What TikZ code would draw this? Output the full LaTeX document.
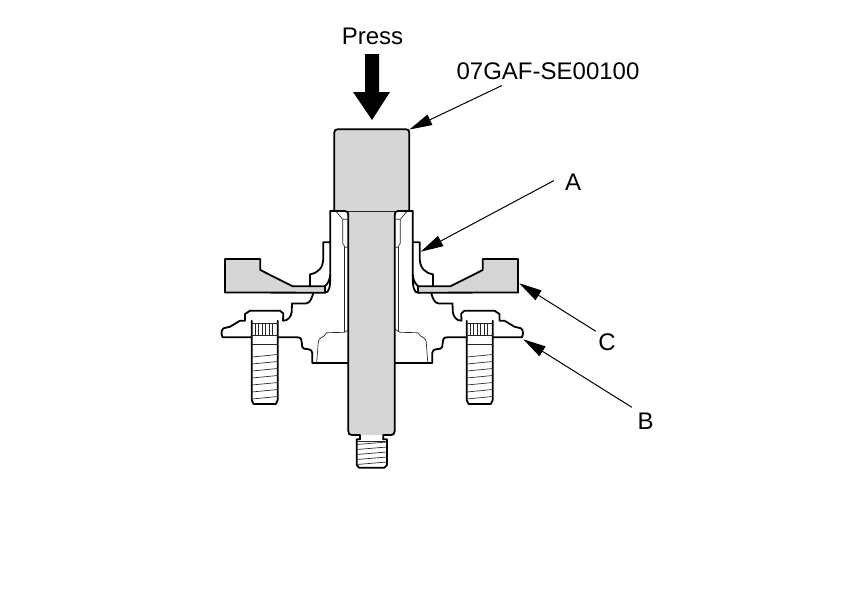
\documentclass[tikz,border=0pt]{standalone}
\usepackage{fontspec}
\setmainfont{Liberation Sans}
\usetikzlibrary{arrows.meta}
\definecolor{steel}{HTML}{D6D6D6}
\tikzset{
  heavy/.style={draw=black,line width=1.35pt,line join=round,line cap=round},
  fine/.style={draw=black!85,line width=0.5pt},
  label/.style={font=\fontsize{18pt}{20pt}\selectfont,inner sep=0pt,text=black},
  leader/.style={draw=black,line width=0.75pt,-{Triangle[length=17pt,width=8.5pt]},shorten <=1pt}
}
\newcommand{\flangehalf}{%
  \fill[steel] (225,259)--(260.3,259)--(260.3,270)--(292.7,286.3)--(325,286.3)--(325,292.7)--(225,292.5)--cycle;
  \draw[heavy] (225,292.5)--(225,259)--(260.3,259)--(260.3,270)--(292.7,286.3)--(325,286.3);
  \draw[heavy] (225,292.5)--(325,292.7);
  \draw[heavy] (310,286.3)--(310,274.3) .. controls (318,273) and (323.3,268) .. (323.3,258)--(323.3,242.3)--(330.2,242.3);
  \draw[heavy] (330.2,211)--(330.2,278) .. controls (330.2,287) and (329,292.7) .. (325,292.7)--(325,286.3);
  \draw[heavy] (325,286.3) .. controls (328.5,283) and (329.8,279) .. (330.2,275);
  \draw[heavy] (330.2,211)--(345,211) .. controls (347.5,211) and (348.3,212.5) .. (348.3,215);
  \draw[fine] (336.5,212)--(342.7,219.3)--(348.3,219.3);
  \draw[fine] (342.7,219.3)--(342.7,243)--(345,247.3)--(348.3,247.3);
  \draw[fine] (344.3,247.3)--(344.3,332);
}
\newcommand{\lowerhalf}{%
  \draw[heavy] (313.3,292.9) .. controls (312,298) and (310,303.3) .. (306,303.4)--(292,303.4)--(291.7,312) .. controls (291,317) and (288,320.7) .. (283,320.7)--(283.3,313.5)--(280,310.7)--(250,310.7)--(245,314)--(245,320.7)--(240,320.7)--(230,326.7)--(223.5,328.3) .. controls (221,330) and (221,335) .. (222.7,337.3)--(251.7,337.3);
  \draw[heavy] (277.7,337.3)--(297.3,337.3) .. controls (301,337.5) and (301.7,339) .. (301.7,342)--(302.3,347) .. controls (303,349) and (305,349) .. (307,349) .. controls (311,349.5) and (312.3,351) .. (312.3,353)--(312.3,363)--(352,363);
  \draw[fine] (316.7,362.5)--(318.3,342) .. controls (319,338) and (322,337) .. (324,336)--(326.7,332.7)--(344.3,332.3)--(352,328);
}
\newcommand{\boltbody}{%
  \draw[heavy] (251.7,320.7)--(251.7,400)--(253.5,404)--(275.9,404)--(277.7,400)--(277.7,320.7);
  \draw[fine] (251.7,323.3)--(277.7,323.3) (251.7,335)--(277.7,335) (251.7,344)--(277.7,344);
  \foreach \kx in {255,258.5,262,265.5,269,272.5}
    \draw[fine] (\kx,323.3)--(\kx,335);
  \foreach \ky in {357,364,371,378,385,392,399}
    \draw[fine] (251.7,\ky)--(277.7,\ky-2.5);
}
\begin{document}
\begin{tikzpicture}[x=0.75pt,y=-0.75pt]
  \useasboundingbox[fill=white] (0,0) rectangle (860,608);
  \begin{scope}\lowerhalf\end{scope}
  \begin{scope}[xshift=744.5*0.75pt,xscale=-1]\lowerhalf\end{scope}
  % tool
  \fill[steel] (348.3,211)--(394.7,211)--(394.7,431) .. controls (394.7,434) and (393,435) .. (391,435)--(352,435) .. controls (349.5,435) and (348.3,434) .. (348.3,431)--cycle;
  \draw[heavy,fill=steel] (334.3,211)--(334.3,132.5) .. controls (334.3,130.3) and (335.5,129.3) .. (337.5,129.3)--(406,129.3) .. controls (408,129.3) and (409.3,130.3) .. (409.3,132.5)--(409.3,211);
  \draw[fine] (345,211)--(398,211);
  \draw[heavy] (348.3,215)--(348.3,431) .. controls (348.3,434) and (349.5,435) .. (352,435)--(360,435)--(360,439.3);
  \draw[heavy] (394.7,215)--(394.7,431) .. controls (394.7,434) and (393,435) .. (391,435)--(383.3,435)--(383.3,439.3);
  % threaded end
  \draw[heavy] (360,439.3)--(356.7,439.3)--(356.7,465)--(359,467.7)--(384.5,467.7)--(386.9,465)--(386.9,439.3)--(383.3,439.3);
  \foreach \ty in {443,448,453,458,463}
    \draw[fine] (356.7,\ty+1.5)--(386.9,\ty-1);
  \draw[fine] (356.7,441)--(386.9,441);
  % hub halves
  \begin{scope}\flangehalf\end{scope}
  \begin{scope}[xshift=743*0.75pt,xscale=-1]\flangehalf\end{scope}
  \boltbody
  \begin{scope}[xshift=215*0.75pt]\boltbody\end{scope}
  % press arrow
  \fill[black] (365,54)--(379,54)--(379,92)--(390,92)--(372,120)--(353,92)--(365,92)--cycle;
  % labels
  \node[label] (press) at (372.5,36.5) {Press};
  \node[label] (tool) at (548,71) {07GAF-SE00100};
  \node[label] (a) at (573,182) {A};
  \node[label] (c) at (607,342) {C};
  \node[label] (b) at (645.5,421) {B};
  % leaders
  \coordinate (toolTip) at (409.5,129.5);
  \coordinate (aTip) at (420.7,251.7);
  \coordinate (cTip) at (519.3,283.3);
  \coordinate (bTip) at (523.3,339.3);
  \coordinate (toolTail) at (503,85);
  \coordinate (aTail) at (555,180);
  \coordinate (cTail) at (597,332);
  \coordinate (bTail) at (633,408);
  \draw[leader] (toolTail)--(toolTip);
  \draw[leader] (aTail)--(aTip);
  \draw[leader] (cTail)--(cTip);
  \draw[leader] (bTail)--(bTip);
\end{tikzpicture}
\end{document}
